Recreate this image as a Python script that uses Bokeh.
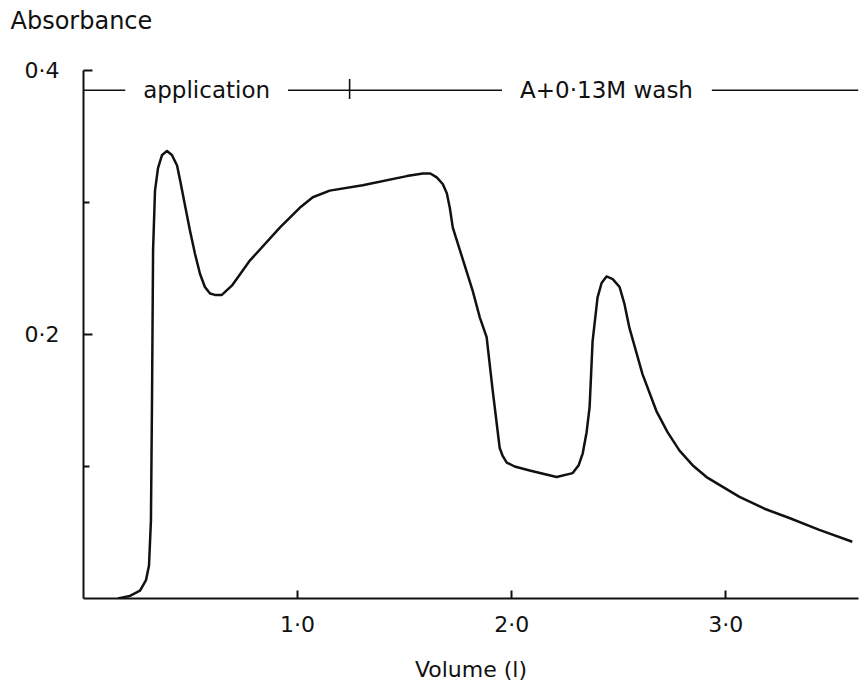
from bokeh.plotting import figure
from bokeh.models import Range1d, FixedTicker, Title
from bokeh.embed import file_html
from bokeh.resources import INLINE
from bokeh.core.properties import value

# ---- data ----
volume = [0.161, 0.217, 0.264, 0.292, 0.306, 0.315, 0.320, 0.325, 0.334, 0.348,
          0.367, 0.390, 0.413, 0.437, 0.451, 0.474, 0.497, 0.521, 0.544, 0.567,
          0.591, 0.614, 0.646, 0.693, 0.777, 0.917, 1.010, 1.071, 1.150, 1.304,
          1.510, 1.585, 1.620, 1.650, 1.678, 1.697, 1.711, 1.725, 1.818, 1.851,
          1.883, 1.911, 1.944, 1.958, 1.977, 2.014, 2.084, 2.210, 2.285, 2.313,
          2.332, 2.350, 2.364, 2.378, 2.401, 2.420, 2.443, 2.472, 2.504, 2.527,
          2.550, 2.611, 2.676, 2.728, 2.784, 2.845, 2.910, 3.064, 3.181, 3.297,
          3.437, 3.591]
absorbance = [0.000, 0.002, 0.006, 0.014, 0.025, 0.059, 0.150, 0.264, 0.309, 0.326,
              0.336, 0.339, 0.336, 0.328, 0.317, 0.298, 0.279, 0.261, 0.246, 0.236,
              0.231, 0.230, 0.230, 0.237, 0.256, 0.281, 0.296, 0.304, 0.309, 0.313,
              0.320, 0.322, 0.322, 0.319, 0.314, 0.307, 0.296, 0.281, 0.233, 0.213,
              0.198, 0.158, 0.114, 0.108, 0.103, 0.100, 0.097, 0.092, 0.095, 0.101,
              0.110, 0.126, 0.145, 0.195, 0.228, 0.239, 0.244, 0.242, 0.236, 0.223,
              0.205, 0.170, 0.142, 0.126, 0.112, 0.101, 0.092, 0.077, 0.068, 0.061,
              0.052, 0.043]

x_ticks = [1.0, 2.0, 3.0]
x_tick_labels = ["1·0", "2·0", "3·0"]
y_ticks = [0.2, 0.4]
y_tick_labels = ["0·2", "0·4"]
y_minor_ticks = [0.1, 0.3]

phase_labels = ["application", "A+0·13M wash"]
phase_label_x = [0.575, 2.443]
phase_level = 0.385
phase_line_x0 = [0.0, 0.955, 2.935]
phase_line_x1 = [0.195, 1.955, 3.62]
phase_divider = 1.243

FONT = "DejaVu Sans"
INK = "#111111"

p = figure(width=866, height=685,
           x_range=Range1d(0, 3.62), y_range=Range1d(0, 0.4),
           output_backend="svg", toolbar_location=None,
           min_border_left=83, min_border_right=8,
           min_border_top=70, min_border_bottom=87)

p.outline_line_color = None
p.xgrid.visible = False
p.ygrid.visible = False

# blank spacer panel between the frame and the "Absorbance" heading
p.add_layout(Title(text=" ", text_font=FONT, text_font_size="22px",
                   standoff=7), "above")

# y-axis title, written horizontally above the axis
p.title.text = "Absorbance"
p.title.text_font = FONT
p.title.text_font_size = "24px"
p.title.text_font_style = "normal"
p.title.text_color = INK
p.title.align = "left"
p.title.vertical_align = "top"
p.title.offset = -73
p.title.standoff = 0

# axes
for ax in (p.xaxis[0], p.yaxis[0]):
    ax.axis_line_width = 2
    ax.axis_line_color = INK
    ax.major_tick_line_color = INK
    ax.major_tick_line_width = 2
    ax.minor_tick_line_color = INK
    ax.minor_tick_line_width = 2
    ax.major_label_text_font = FONT
    ax.major_label_text_font_size = "22px"
    ax.major_label_text_color = INK

p.xaxis.ticker = FixedTicker(ticks=x_ticks)
p.xaxis.major_label_overrides = dict(zip(x_ticks, x_tick_labels))
p.xaxis.major_tick_in = 8
p.xaxis.major_tick_out = 0
p.xaxis.minor_tick_in = 0
p.xaxis.minor_tick_out = 0
p.xaxis.major_label_standoff = 13
p.xaxis.axis_label = "Volume (l)"
p.xaxis.axis_label_text_font = FONT
p.xaxis.axis_label_text_font_size = "22px"
p.xaxis.axis_label_text_font_style = "normal"
p.xaxis.axis_label_text_color = INK
p.xaxis.axis_label_standoff = 17

p.yaxis.ticker = FixedTicker(ticks=y_ticks, minor_ticks=y_minor_ticks)
p.yaxis.major_label_overrides = dict(zip(y_ticks, y_tick_labels))
p.yaxis.major_tick_in = 9
p.yaxis.major_tick_out = 0
p.yaxis.minor_tick_in = 6
p.yaxis.minor_tick_out = 0
p.yaxis.major_label_standoff = 24
p.yaxis.major_label_orientation = "horizontal"

# curve
p.line(volume, absorbance, line_color=INK, line_width=2.5, line_join="round")

# phase annotation line
p.segment(x0=phase_line_x0, y0=[phase_level] * len(phase_line_x0),
          x1=phase_line_x1, y1=[phase_level] * len(phase_line_x1),
          line_color=INK, line_width=1.6)
p.segment(x0=[phase_divider], y0=[phase_level - 0.0065],
          x1=[phase_divider], y1=[phase_level + 0.0085],
          line_color=INK, line_width=1.6)
p.text(x=phase_label_x, y=[phase_level] * len(phase_label_x), text=phase_labels,
       text_font=value(FONT), text_font_size="23px", text_color=INK,
       text_align="center", text_baseline="middle")

open("out.html", "w").write(file_html(p, INLINE))
